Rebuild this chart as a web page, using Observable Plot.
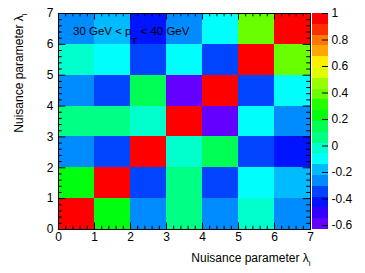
<!DOCTYPE html>
<html><head><meta charset="utf-8">
<script src="https://cdn.jsdelivr.net/npm/d3@7"></script>
<script src="https://cdn.jsdelivr.net/npm/@observablehq/plot@0.6"></script>
<style>
body{margin:0;background:#fff}
#chart{position:relative;width:365px;height:273px}
#chart svg{position:absolute;left:0;top:0}
</style>
</head><body><div id="chart"></div>
<script>
// ---- data ----
const params = [0, 1, 2, 3, 4, 5, 6];
const corrRow0 = [ 1.00,  0.22, -0.26,  0.06, -0.26, -0.02, -0.26];
const corrRow1 = [ 0.22,  1.00, -0.34,  0.06, -0.34, -0.10, -0.18];
const corrRow2 = [-0.26, -0.34,  1.00, -0.02,  0.14, -0.34, -0.42];
const corrRow3 = [ 0.06,  0.06, -0.02,  1.00, -0.63, -0.10, -0.26];
const corrRow4 = [-0.26, -0.34,  0.14, -0.63,  1.00, -0.34, -0.10];
const corrRow5 = [-0.02, -0.10, -0.34, -0.10, -0.34,  1.00,  0.39];
const corrRow6 = [-0.26, -0.18, -0.42, -0.26, -0.10,  0.39,  1.00];
const zMin = -0.63, zMax = 1.0;
const nContours = 20;
const axisTickValues = [0, 1, 2, 3, 4, 5, 6, 7];
const cbTickValues = [-0.6, -0.4, -0.2, 0, 0.2, 0.4, 0.6, 0.8, 1];
const annotation = ["30 GeV < p", "T", " < 40 GeV"];
const axisTitle = ["Nuisance parameter \u03bb", "i"];

// ---- derived ----
const corrRows = [corrRow0, corrRow1, corrRow2, corrRow3, corrRow4, corrRow5, corrRow6];
const cells = corrRows.flatMap((row, iy) => row.map((v, ix) => ({x: params[ix], y: params[iy], v})));

// ROOT "pretty" palette (50 HLS colours), sampled for 20 contours
const pretty = d3.range(50).map(i => d3.hsl(280 - (i + 1) * 5.6, 1, 0.5).formatHex());
const contourColors = d3.range(nContours).map(j => pretty[Math.floor((j + 0.99) * 50 / nContours)]);
const dz = (zMax - zMin) / nContours;
const thresholds = d3.range(1, nContours).map(k => zMin + k * dz);
const bands = d3.range(nContours).map(j => ({lo: zMin + j * dz, hi: zMin + (j + 1) * dz}));
const minorTicks = d3.range(0, 36).filter(i => i % 5 !== 0).map(i => i / 5);

const W = 365, H = 273, mL = 58, mR = 55, mT = 13, mB = 44;
const innerW = W - mL - mR, innerH = H - mT - mB;
const font = "'Liberation Sans', Arial, Helvetica, sans-serif";
const colorScale = {type: "threshold", domain: thresholds, range: contourColors};

const main = Plot.plot({
  width: W, height: H, marginLeft: mL, marginRight: mR, marginTop: mT, marginBottom: mB,
  style: {fontFamily: font, fontSize: "12px", color: "black", background: "white"},
  x: {domain: [0, 7]},
  y: {domain: [0, 7]},
  color: colorScale,
  marks: [
    Plot.rect(cells, {x1: "x", x2: d => d.x + 1, y1: "y", y2: d => d.y + 1, fill: "v", shapeRendering: "crispEdges"}),
    Plot.frame({stroke: "black", strokeWidth: 1}),
    Plot.tickX(axisTickValues, {x: d => d, insetTop: innerH - 6.5, stroke: "black"}),
    Plot.tickX(axisTickValues, {x: d => d, insetBottom: innerH - 6.5, stroke: "black"}),
    Plot.tickX(minorTicks, {x: d => d, insetTop: innerH - 3.3, stroke: "black"}),
    Plot.tickX(minorTicks, {x: d => d, insetBottom: innerH - 3.3, stroke: "black"}),
    Plot.tickY(axisTickValues, {y: d => d, insetRight: innerW - 7.5, stroke: "black"}),
    Plot.tickY(axisTickValues, {y: d => d, insetLeft: innerW - 7.5, stroke: "black"}),
    Plot.tickY(minorTicks, {y: d => d, insetRight: innerW - 3.8, stroke: "black"}),
    Plot.tickY(minorTicks, {y: d => d, insetLeft: innerW - 3.8, stroke: "black"}),
    Plot.axisX(axisTickValues, {anchor: "bottom", tickSize: 0, tickPadding: 3, tickFormat: d => String(d), label: null}),
    Plot.axisY(axisTickValues, {anchor: "left", tickSize: 0, tickPadding: 5, tickFormat: d => String(d), label: null}),
    Plot.text([axisTitle.join("")], {frameAnchor: "bottom-right", textAnchor: "end", lineAnchor: "middle", dy: 29, fontSize: 12, fill: "black"}),
    Plot.text([axisTitle.join("")], {frameAnchor: "top-left", textAnchor: "end", lineAnchor: "middle", rotate: -90, dx: -39, fontSize: 12, fill: "black"}),
    Plot.text([annotation.join("")], {frameAnchor: "top-left", textAnchor: "start", lineAnchor: "middle", dx: 14.5, dy: 17.5, fontSize: 11.5, fill: "black"})
  ]
});

const bar = Plot.plot({
  width: W, height: H, marginLeft: 312, marginRight: 37, marginTop: mT, marginBottom: mB,
  style: {fontFamily: font, fontSize: "12px", color: "black", background: "transparent"},
  y: {domain: [zMin, zMax]},
  color: colorScale,
  marks: [
    Plot.rect(bands, {y1: "lo", y2: "hi", fill: d => (d.lo + d.hi) / 2, shapeRendering: "crispEdges"}),
    Plot.tickY(cbTickValues, {y: d => d, insetLeft: 16 - 6, stroke: "black"}),
    Plot.axisY(cbTickValues, {anchor: "right", tickSize: 0, tickPadding: 3, tickFormat: d => String(d), label: null})
  ]
});

function subscript(svg, parts, subSize, shift) {
  const full = parts.join("");
  svg.querySelectorAll("text").forEach(t => {
    if (t.textContent !== full) return;
    t.textContent = "";
    const ns = "http://www.w3.org/2000/svg";
    const a = document.createElementNS(ns, "tspan"); a.textContent = parts[0]; t.appendChild(a);
    const b = document.createElementNS(ns, "tspan"); b.textContent = parts[1];
    b.setAttribute("dy", shift); b.setAttribute("font-size", subSize); t.appendChild(b);
    if (parts[2]) {
      const c = document.createElementNS(ns, "tspan"); c.textContent = parts[2];
      c.setAttribute("dy", -shift); t.appendChild(c);
    }
  });
}
subscript(main, annotation, 9.5, 9);
subscript(main, axisTitle, 8, 3.5);

const root = document.getElementById("chart");
root.appendChild(main);
root.appendChild(bar);
</script>
</body></html>
